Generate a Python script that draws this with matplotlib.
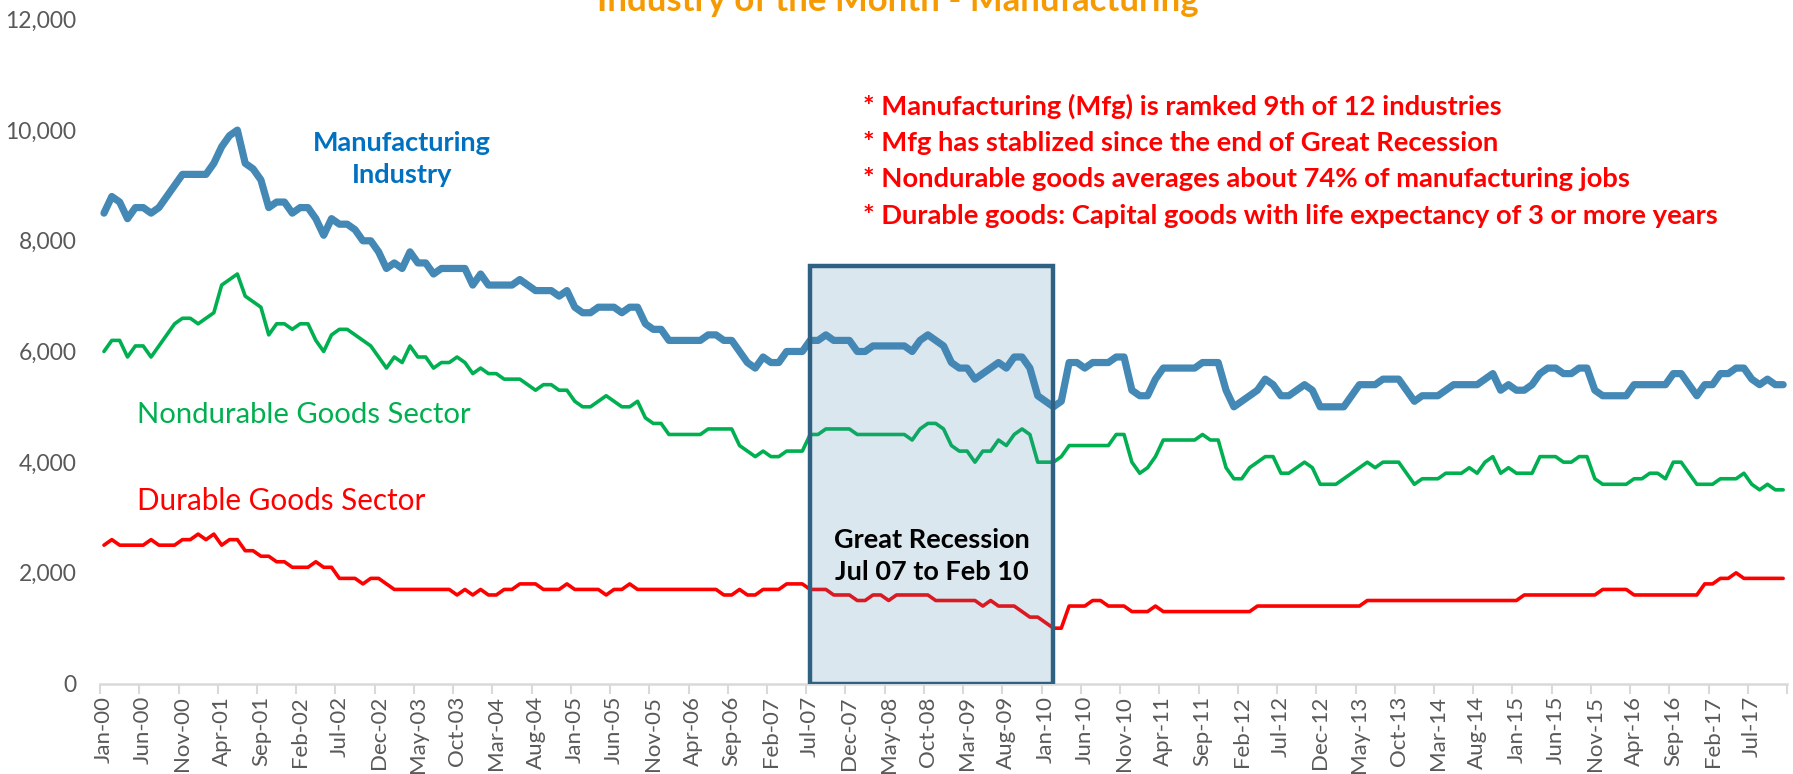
import matplotlib

matplotlib.use("Agg")
import matplotlib.pyplot as plt
import pandas as pd
from matplotlib.patches import Rectangle

# monthly jobs, Jan-2000 .. Nov-2017
MONTHS = pd.date_range("2000-01-01", periods=215, freq="MS").strftime("%b-%y").tolist()

MANUFACTURING = [
    8500, 8800, 8700, 8400, 8600, 8600, 8500, 8600, 8800, 9000,
    9200, 9200, 9200, 9200, 9400, 9700, 9900, 10000, 9400, 9300,
    9100, 8600, 8700, 8700, 8500, 8600, 8600, 8400, 8100, 8400,
    8300, 8300, 8200, 8000, 8000, 7800, 7500, 7600, 7500, 7800,
    7600, 7600, 7400, 7500, 7500, 7500, 7500, 7200, 7400, 7200,
    7200, 7200, 7200, 7300, 7200, 7100, 7100, 7100, 7000, 7100,
    6800, 6700, 6700, 6800, 6800, 6800, 6700, 6800, 6800, 6500,
    6400, 6400, 6200, 6200, 6200, 6200, 6200, 6300, 6300, 6200,
    6200, 6000, 5800, 5700, 5900, 5800, 5800, 6000, 6000, 6000,
    6200, 6200, 6300, 6200, 6200, 6200, 6000, 6000, 6100, 6100,
    6100, 6100, 6100, 6000, 6200, 6300, 6200, 6100, 5800, 5700,
    5700, 5500, 5600, 5700, 5800, 5700, 5900, 5900, 5700, 5200,
    5100, 5000, 5100, 5800, 5800, 5700, 5800, 5800, 5800, 5900,
    5900, 5300, 5200, 5200, 5500, 5700, 5700, 5700, 5700, 5700,
    5800, 5800, 5800, 5300, 5000, 5100, 5200, 5300, 5500, 5400,
    5200, 5200, 5300, 5400, 5300, 5000, 5000, 5000, 5000, 5200,
    5400, 5400, 5400, 5500, 5500, 5500, 5300, 5100, 5200, 5200,
    5200, 5300, 5400, 5400, 5400, 5400, 5500, 5600, 5300, 5400,
    5300, 5300, 5400, 5600, 5700, 5700, 5600, 5600, 5700, 5700,
    5300, 5200, 5200, 5200, 5200, 5400, 5400, 5400, 5400, 5400,
    5600, 5600, 5400, 5200, 5400, 5400, 5600, 5600, 5700, 5700,
    5500, 5400, 5500, 5400, 5400,
]

NONDURABLE = [
    6000, 6200, 6200, 5900, 6100, 6100, 5900, 6100, 6300, 6500,
    6600, 6600, 6500, 6600, 6700, 7200, 7300, 7400, 7000, 6900,
    6800, 6300, 6500, 6500, 6400, 6500, 6500, 6200, 6000, 6300,
    6400, 6400, 6300, 6200, 6100, 5900, 5700, 5900, 5800, 6100,
    5900, 5900, 5700, 5800, 5800, 5900, 5800, 5600, 5700, 5600,
    5600, 5500, 5500, 5500, 5400, 5300, 5400, 5400, 5300, 5300,
    5100, 5000, 5000, 5100, 5200, 5100, 5000, 5000, 5100, 4800,
    4700, 4700, 4500, 4500, 4500, 4500, 4500, 4600, 4600, 4600,
    4600, 4300, 4200, 4100, 4200, 4100, 4100, 4200, 4200, 4200,
    4500, 4500, 4600, 4600, 4600, 4600, 4500, 4500, 4500, 4500,
    4500, 4500, 4500, 4400, 4600, 4700, 4700, 4600, 4300, 4200,
    4200, 4000, 4200, 4200, 4400, 4300, 4500, 4600, 4500, 4000,
    4000, 4000, 4100, 4300, 4300, 4300, 4300, 4300, 4300, 4500,
    4500, 4000, 3800, 3900, 4100, 4400, 4400, 4400, 4400, 4400,
    4500, 4400, 4400, 3900, 3700, 3700, 3900, 4000, 4100, 4100,
    3800, 3800, 3900, 4000, 3900, 3600, 3600, 3600, 3700, 3800,
    3900, 4000, 3900, 4000, 4000, 4000, 3800, 3600, 3700, 3700,
    3700, 3800, 3800, 3800, 3900, 3800, 4000, 4100, 3800, 3900,
    3800, 3800, 3800, 4100, 4100, 4100, 4000, 4000, 4100, 4100,
    3700, 3600, 3600, 3600, 3600, 3700, 3700, 3800, 3800, 3700,
    4000, 4000, 3800, 3600, 3600, 3600, 3700, 3700, 3700, 3800,
    3600, 3500, 3600, 3500, 3500,
]

DURABLE = [
    2500, 2600, 2500, 2500, 2500, 2500, 2600, 2500, 2500, 2500,
    2600, 2600, 2700, 2600, 2700, 2500, 2600, 2600, 2400, 2400,
    2300, 2300, 2200, 2200, 2100, 2100, 2100, 2200, 2100, 2100,
    1900, 1900, 1900, 1800, 1900, 1900, 1800, 1700, 1700, 1700,
    1700, 1700, 1700, 1700, 1700, 1600, 1700, 1600, 1700, 1600,
    1600, 1700, 1700, 1800, 1800, 1800, 1700, 1700, 1700, 1800,
    1700, 1700, 1700, 1700, 1600, 1700, 1700, 1800, 1700, 1700,
    1700, 1700, 1700, 1700, 1700, 1700, 1700, 1700, 1700, 1600,
    1600, 1700, 1600, 1600, 1700, 1700, 1700, 1800, 1800, 1800,
    1700, 1700, 1700, 1600, 1600, 1600, 1500, 1500, 1600, 1600,
    1500, 1600, 1600, 1600, 1600, 1600, 1500, 1500, 1500, 1500,
    1500, 1500, 1400, 1500, 1400, 1400, 1400, 1300, 1200, 1200,
    1100, 1000, 1000, 1400, 1400, 1400, 1500, 1500, 1400, 1400,
    1400, 1300, 1300, 1300, 1400, 1300, 1300, 1300, 1300, 1300,
    1300, 1300, 1300, 1300, 1300, 1300, 1300, 1400, 1400, 1400,
    1400, 1400, 1400, 1400, 1400, 1400, 1400, 1400, 1400, 1400,
    1400, 1500, 1500, 1500, 1500, 1500, 1500, 1500, 1500, 1500,
    1500, 1500, 1500, 1500, 1500, 1500, 1500, 1500, 1500, 1500,
    1500, 1600, 1600, 1600, 1600, 1600, 1600, 1600, 1600, 1600,
    1600, 1700, 1700, 1700, 1700, 1600, 1600, 1600, 1600, 1600,
    1600, 1600, 1600, 1600, 1800, 1800, 1900, 1900, 2000, 1900,
    1900, 1900, 1900, 1900, 1900,
]

RECESSION = ("Jul-07", "Feb-10")
NOTES = [
    "* Manufacturing (Mfg) is ramked 9th of 12 industries",
    "* Mfg has stablized since the end of Great Recession",
    "* Nondurable goods averages about 74% of manufacturing jobs",
    "* Durable goods: Capital goods with life expectancy of 3 or more years",
]

FONT = ["Lato", "DejaVu Sans"]
GRAY = "#595959"


def main() -> None:
    plt.rcParams["font.family"] = FONT
    fig = plt.figure(figsize=(17.93, 7.74), dpi=100)
    ax = fig.add_axes([0.0558, 0.1169, 0.9409, 0.858])

    x = range(len(MONTHS))
    ax.plot(x, MANUFACTURING, color="#4488B5", lw=5.2,
            solid_joinstyle="round", solid_capstyle="round", zorder=3)
    ax.plot(x, NONDURABLE, color="#00B050", lw=2.6,
            solid_joinstyle="round", solid_capstyle="round", zorder=3)
    ax.plot(x, DURABLE, color="#FF0000", lw=2.6,
            solid_joinstyle="round", solid_capstyle="round", zorder=3)

    # recession box sits on top of the lines, translucent fill
    x0, x1 = MONTHS.index(RECESSION[0]), MONTHS.index(RECESSION[1])
    ax.add_patch(Rectangle((x0, 0), x1 - x0, 7550,
                           facecolor=(0.29, 0.53, 0.69, 0.2),
                           edgecolor="#2F6282", lw=3.2, zorder=4))
    ax.text((x0 + x1) / 2, 2300, "Great Recession\nJul 07 to Feb 10",
            ha="center", va="center", fontsize=19.5, weight="bold",
            color="black", linespacing=1.42, zorder=5)

    ax.set_xlim(-0.5, len(MONTHS) - 0.5)
    ax.set_ylim(0, 12000)
    ax.set_yticks(range(0, 12001, 2000))
    ax.set_yticklabels([f"{v:,}" for v in range(0, 12001, 2000)])
    ax.tick_params(axis="y", length=0, pad=17, labelsize=16.5, labelcolor=GRAY)

    ticks = list(range(0, len(MONTHS), 5))
    ax.set_xticks(ticks)
    ax.set_xticklabels([MONTHS[i] for i in ticks], rotation=90)
    ax.set_xticks([i - 0.5 for i in ticks] + [len(MONTHS) - 0.5], minor=True)
    ax.tick_params(axis="x", which="major", length=0, pad=9,
                   labelsize=16, labelcolor=GRAY)
    ax.tick_params(axis="x", which="minor", length=7, width=1.5,
                   color="#D9D9D9", direction="out")

    for side in ("top", "right", "left"):
        ax.spines[side].set_visible(False)
    ax.spines["bottom"].set_color("#D9D9D9")
    ax.spines["bottom"].set_linewidth(1.8)

    ax.text(38, 9480, "Manufacturing\nIndustry", ha="center", va="center",
            fontsize=19.5, weight="bold", color="#0070C0", linespacing=1.4)
    ax.text(4.2, 4850, "Nondurable Goods Sector", ha="left", va="center",
            fontsize=21.1, color="#00B050")
    ax.text(4.2, 3300, "Durable Goods Sector", ha="left", va="center",
            fontsize=21.3, color="#FF0000")

    for k, note in enumerate(NOTES):
        ax.text(96.7, 10430 - k * 660, note, ha="left", va="center",
                fontsize=19.7, weight="bold", color="#FF0000")

    # title sits partly above the canvas, as in the source slide
    fig.text(0.501, 0.986, "Industry of the Month - Manufacturing",
             ha="center", va="baseline", fontsize=25, weight="bold",
             color="#F59A00")

    fig.savefig("out.png", dpi=100)


if __name__ == "__main__":
    main()
